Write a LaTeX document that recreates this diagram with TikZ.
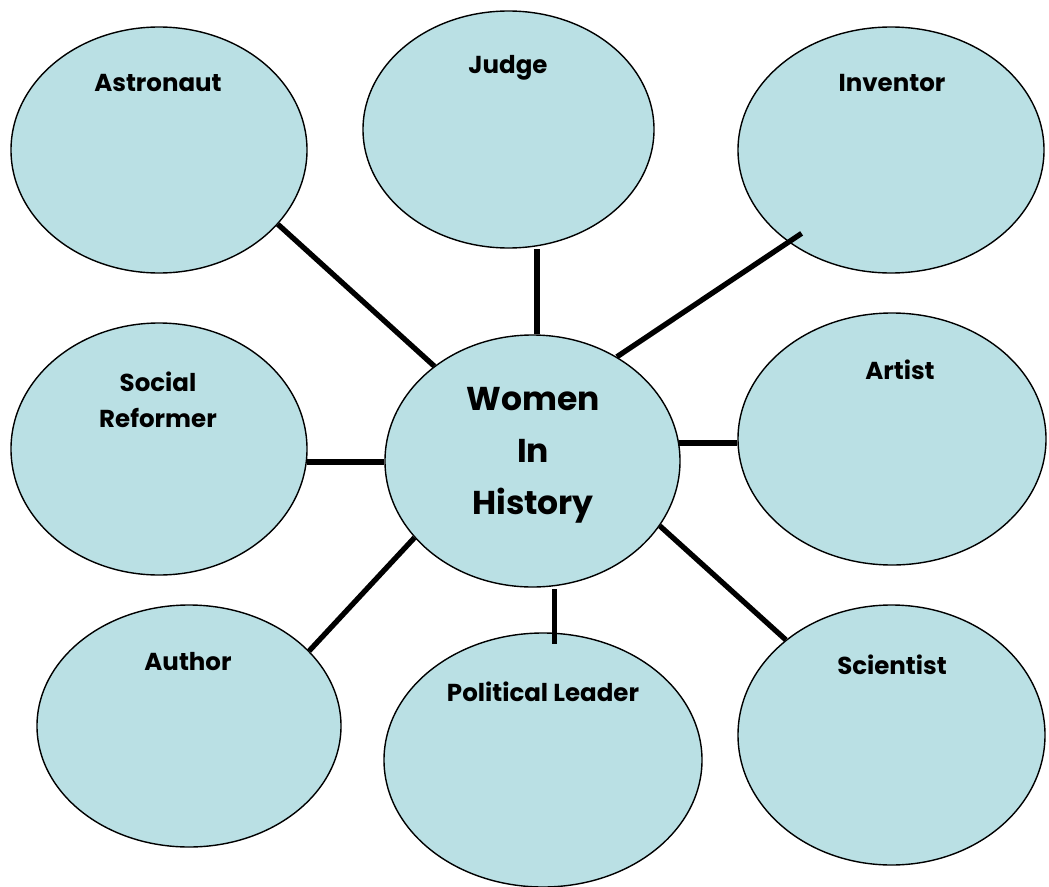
\documentclass[tikz,border=0pt]{standalone}
\usepackage{fontspec}
\setmainfont{Poppins}
\usetikzlibrary{shapes.geometric,calc}
\definecolor{bubble}{RGB}{186,224,228}
\tikzset{
  bub/.style={ellipse, draw=black, line width=1.4pt, fill=bubble, inner sep=0pt},
  lbl/.style={font=\fontsize{24.5}{36}\selectfont\bfseries, align=center, inner sep=0pt},
  big/.style={font=\fontsize{33}{52}\selectfont\bfseries, align=center, inner sep=0pt},
  link/.style={line width=5.3pt, line cap=butt}
}
\begin{document}
\begin{tikzpicture}[x=1pt,y=-1pt]
\useasboundingbox (0,0) rectangle (1049,886);
% bubbles
\node[bub, minimum width=296pt, minimum height=246pt] (ast) at (159,150) {};
\node[bub, minimum width=291pt, minimum height=237pt] (jud) at (508.5,129.5) {};
\node[bub, minimum width=306pt, minimum height=246pt] (inv) at (891,150) {};
\node[bub, minimum width=296pt, minimum height=252pt] (soc) at (159,449) {};
\node[bub, minimum width=295pt, minimum height=252pt] (ctr) at (532.5,461) {};
\node[bub, minimum width=308pt, minimum height=252pt] (art) at (892,439) {};
\node[bub, minimum width=304pt, minimum height=242pt] (aut) at (189,726) {};
\node[bub, minimum width=318pt, minimum height=254pt] (pol) at (543,760) {};
\node[bub, minimum width=307pt, minimum height=260pt] (sci) at (891.5,735) {};
% labels
\node[lbl] (ast-t) at (158,83) {Astronaut};
\node[lbl] (jud-t) at (508,68) {Judge};
\node[lbl] (inv-t) at (892,83) {Inventor};
\node[lbl] (soc-t) at (158,400) {Social\\Reformer};
\node[big] (ctr-t) at (533,455) {Women\\In\\History};
\node[lbl] (art-t) at (900,370) {Artist};
\node[lbl] (aut-t) at (188,662) {Author};
\node[lbl] (pol-t) at (543,692) {Political Leader};
\node[lbl] (sci-t) at (892,665) {Scientist};
% connectors
\draw[link] (ast.-32.6) -- (ctr.136.3);
\draw[link] (ctr.88) -- (ctr.88 |- jud.south);
\draw[link] (ctr.51.6) -- ($(inv.center)!0.89!(inv.-137)$);
\draw[link] (soc.-5) -- (soc.-5 -| ctr.west);
\draw[link] (ctr.7) -- (ctr.7 -| art.west);
\draw[link] (aut.32.1) -- (ctr.-147.5);
\draw[link] ($(ctr.-80)+(0,3)$) -- ($(ctr.-80 |- pol.north)+(0,12)$);
\draw[link] (ctr.-27.7) -- (sci.138.3);
\end{tikzpicture}
\end{document}
